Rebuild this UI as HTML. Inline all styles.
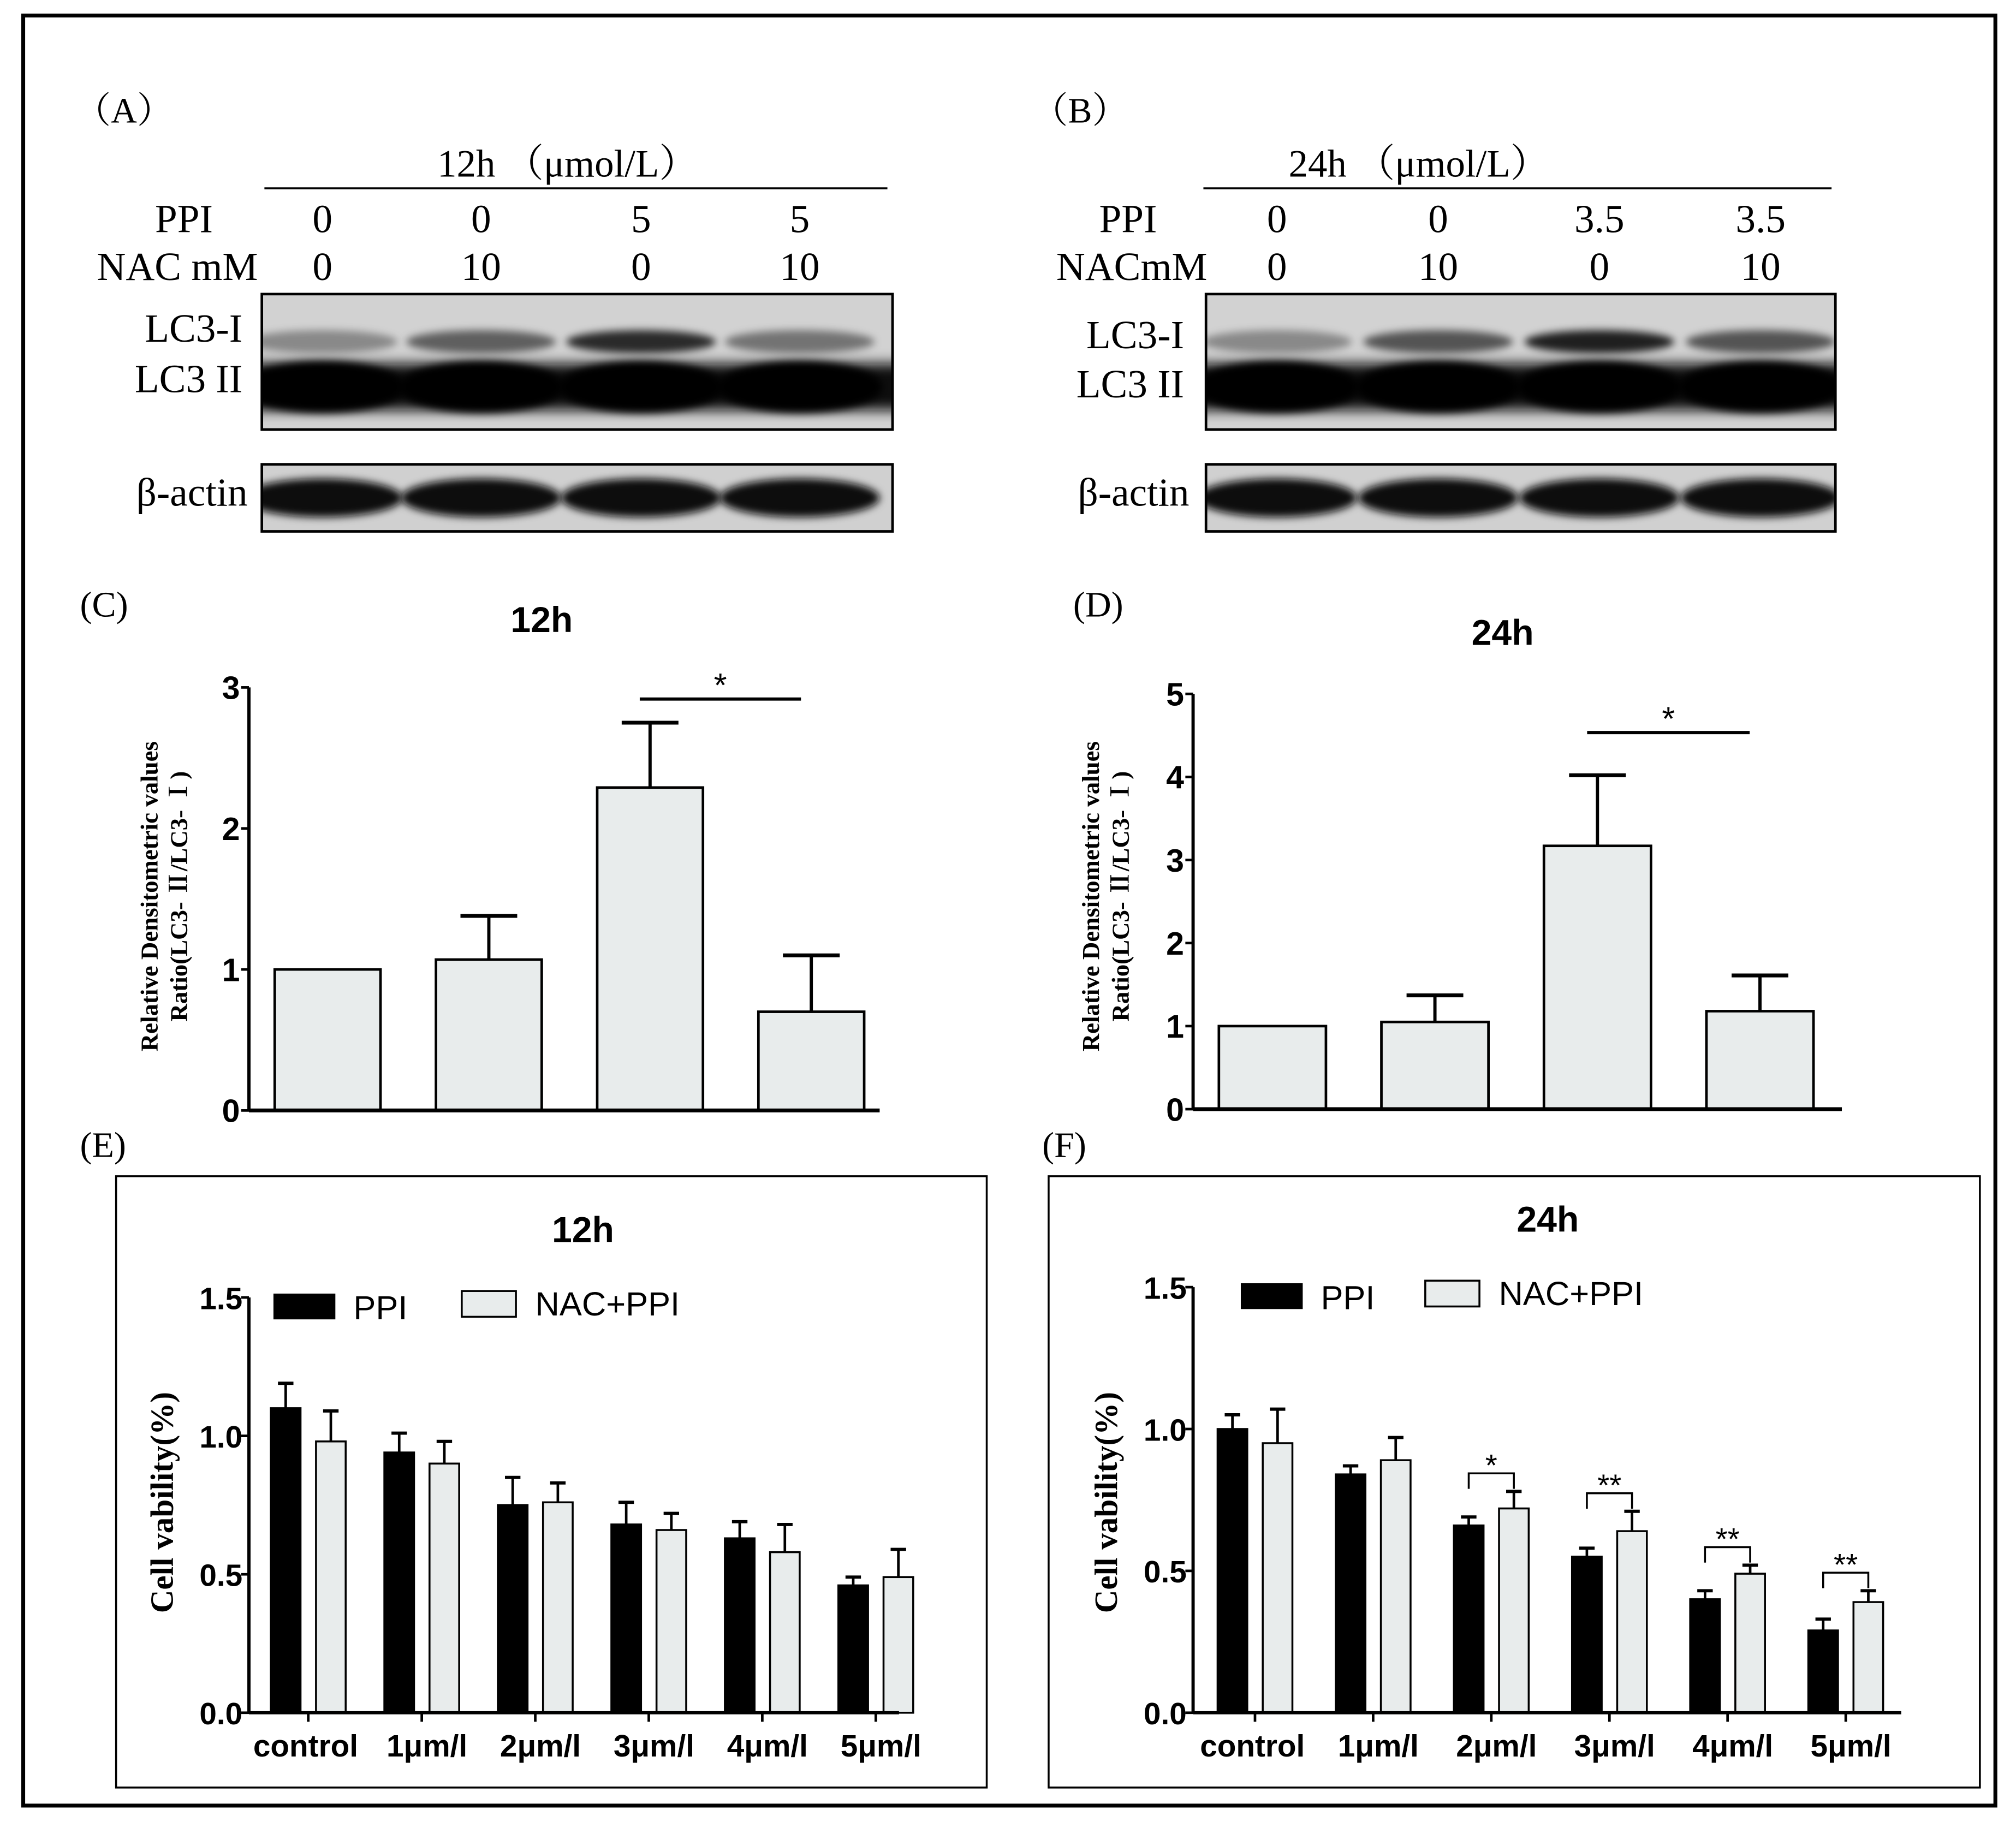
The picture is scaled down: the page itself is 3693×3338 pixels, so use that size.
<!DOCTYPE html>
<html><head><meta charset="utf-8"><style>
html,body{margin:0;padding:0;background:#fff;}
svg{display:block;}
.ser{font-family:"Liberation Serif","Noto Serif CJK SC",serif;}
.sans{font-family:"Liberation Sans","Noto Sans CJK SC",sans-serif;}
</style></head><body>
<svg id="fig" width="3693" height="3338" viewBox="0 0 1563 1412.7" xmlns="http://www.w3.org/2000/svg">
<defs>
<filter id="bl" x="-20%" y="-50%" width="140%" height="200%"><feGaussianBlur stdDeviation="5"/></filter>
<filter id="bl2" x="-20%" y="-50%" width="140%" height="200%"><feGaussianBlur stdDeviation="3"/></filter>
<clipPath id="clA1"><rect x="203" y="228" width="489" height="105"/></clipPath>
<clipPath id="clA2"><rect x="203" y="360" width="489" height="52"/></clipPath>
<clipPath id="clB1"><rect x="935" y="228" width="488" height="105"/></clipPath>
<clipPath id="clB2"><rect x="935" y="360" width="488" height="52"/></clipPath>
</defs>
<rect x="18" y="12" width="1529" height="1388" fill="#fff" stroke="#000" stroke-width="3"/>
<g id="blots"></g>
<g id="charts"></g>
</svg>
<script>
const NS="http://www.w3.org/2000/svg";
const svg=document.getElementById('fig');
function el(tag,attrs,parent,txt){const e=document.createElementNS(NS,tag);for(const k in attrs)e.setAttribute(k,attrs[k]);if(txt!==undefined)e.textContent=txt;(parent||svg).appendChild(e);return e;}

// ---- Western blot panels (A),(B) ----
const blotA_lanes=[250,373,497,620];
const blotB_lanes=[990,1115,1240,1365];
const lc3iA=[0.35,0.55,0.8,0.45];
const lc3iB=[0.35,0.6,0.85,0.6];
function blotPanel(p){
  const g=el('g',{},document.getElementById('blots'));
  
  
  let t=el('text',{x:p.lx,y:95,'font-size':28,class:'ser'},g,p.letter);
  
  t=el('text',{x:p.cx,y:137,'font-size':30,'text-anchor':'middle',class:'ser'},g,p.time);
  
  el('line',{x1:p.x0,y1:146,x2:p.x1,y2:146,stroke:'#000','stroke-width':1.5},g);
  el('text',{x:p.ppiX,y:180,'font-size':31,'text-anchor':'end',class:'ser'},g,'PPI');
  el('text',{x:p.nacX,y:217,'font-size':31,'text-anchor':'end',class:'ser'},g,p.nacLabel);
  p.lanes.forEach((x,i)=>{
    el('text',{x:x,y:180,'font-size':31,'text-anchor':'middle',class:'ser'},g,p.ppi[i]);
    el('text',{x:x,y:217,'font-size':31,'text-anchor':'middle',class:'ser'},g,p.nac[i]);
  });
  const b=el('g',{},g);
  
  el('rect',{x:p.bx,y:228,width:p.bw,height:105,fill:'#d2d2d2'},b);
  const cl=el('g',{'clip-path':'url(#'+p.c1+')'},b);
  el('rect',{x:p.bx-20,y:282,width:p.bw+40,height:36,fill:'#111',filter:'url(#bl)'},cl);
  p.lanes.forEach((x,i)=>{
    el('ellipse',{cx:x,cy:265,rx:58,ry:9,fill:'#000','fill-opacity':p.lc3i[i],filter:'url(#bl2)'},cl);
    el('ellipse',{cx:x,cy:300,rx:64,ry:20,fill:'#000',filter:'url(#bl2)'},cl);
  });
  el('rect',{x:p.bx,y:228,width:p.bw,height:105,fill:'none',stroke:'#000','stroke-width':2},b);
  el('text',{x:p.labX,y:p.lc3iY,'font-size':31,'text-anchor':'end',class:'ser'},g,'LC3-I');
  el('text',{x:p.labX,y:p.lc3iiY,'font-size':31,'text-anchor':'end',class:'ser'},g,'LC3 II');
  const a=el('g',{},g);
  
  el('rect',{x:p.bx,y:360,width:p.bw,height:52,fill:'#d0d0d0'},a);
  const ca=el('g',{'clip-path':'url(#'+p.c2+')'},a);
  p.lanes.forEach(x=>{el('ellipse',{cx:x,cy:386,rx:62,ry:15,fill:'#0a0a0a',filter:'url(#bl2)'},ca);});
  el('rect',{x:p.bx,y:360,width:p.bw,height:52,fill:'none',stroke:'#000','stroke-width':2},a);
  el('text',{x:p.labX+4,y:392,'font-size':31,'text-anchor':'end',class:'ser'},g,'β-actin');
}
blotPanel({id:'a',letter:'（A）',lx:58,time:'12h （μmol/L）',cx:440,x0:205,x1:688,ppiX:165,nacX:200,nacLabel:'NAC mM',c1:'clA1',c2:'clA2',
  lanes:blotA_lanes,ppi:['0','0','5','5'],nac:['0','10','0','10'],bx:203,bw:489,labX:188,lc3iY:265,lc3iiY:304,lc3i:lc3iA});
blotPanel({id:'b',letter:'（B）',lx:800,time:'24h （μmol/L）',cx:1100,x0:933,x1:1420,ppiX:897,nacX:936,nacLabel:'NACmM',c1:'clB1',c2:'clB2',
  lanes:blotB_lanes,ppi:['0','0','3.5','3.5'],nac:['0','10','0','10'],bx:935,bw:488,labX:918,lc3iY:270,lc3iiY:308,lc3i:lc3iB});

// ---- Chart data ----
const cCategories=['0/0','0/10','5/0','5/10'];
const cValues=[1.0,1.07,2.29,0.70];
const cErrors=[0,0.31,0.46,0.40];
const cTicks=[0,1,2,3];
const dCategories=['0/0','0/10','3.5/0','3.5/10'];
const dValues=[1.0,1.05,3.17,1.18];
const dErrors=[0,0.32,0.85,0.43];
const dTicks=[0,1,2,3,4,5];
const eCategories=['control','1μm/l','2μm/l','3μm/l','4μm/l','5μm/l'];
const ePPI=[1.10,0.94,0.75,0.68,0.63,0.46];
const ePPIerr=[0.09,0.07,0.10,0.08,0.06,0.03];
const eNAC=[0.98,0.90,0.76,0.66,0.58,0.49];
const eNACerr=[0.11,0.08,0.07,0.06,0.10,0.10];
const fPPI=[1.00,0.84,0.66,0.55,0.40,0.29];
const fPPIerr=[0.05,0.03,0.03,0.03,0.03,0.04];
const fNAC=[0.95,0.89,0.72,0.64,0.49,0.39];
const fNACerr=[0.12,0.08,0.06,0.07,0.03,0.04];
const fSig=['','','*','**','**','**'];
const vTicks=['0.0','0.5','1.0','1.5'];

const charts=document.getElementById('charts');

function ratioChart(o){
  const g=el('g',{},charts);
  
  const y=v=>o.y0-(v/o.max)*(o.y0-o.yTop);
  el('text',{x:o.letterX,y:478,'font-size':28,class:'ser'},g,o.letter);
  let t=el('text',{x:o.titleX,y:o.titleY,'font-size':28,'font-weight':'bold','text-anchor':'middle',class:'sans'},g,o.title);
  
  o.ticks.forEach(v=>{
    el('line',{x1:o.ax-6,y1:y(v),x2:o.ax,y2:y(v),stroke:'#000','stroke-width':2},g);
    const tl=el('text',{x:o.ax-7,y:y(v)+9,'font-size':25,'font-weight':'bold','text-anchor':'end',class:'sans'},g,String(v));
    
  });
  o.values.forEach((v,i)=>{
    const x=o.bar0+i*o.step;
    const r=el('rect',{x:x,y:y(v),width:o.bw,height:o.y0-y(v),fill:'#e8ecec',stroke:'#000','stroke-width':2},g);
    
    if(o.errs[i]>0){
      const cx=x+o.bw/2, ye=y(v+o.errs[i]);
      el('line',{x1:cx,y1:y(v),x2:cx,y2:ye,stroke:'#000','stroke-width':2.5},g);
      el('line',{x1:cx-22,y1:ye,x2:cx+22,y2:ye,stroke:'#000','stroke-width':3},g);
    }
  });
  el('line',{x1:o.ax,y1:o.yTop,x2:o.ax,y2:o.y0,stroke:'#000','stroke-width':2.5},g);
  el('line',{x1:o.ax,y1:o.y0,x2:o.xEnd,y2:o.y0,stroke:'#000','stroke-width':3},g);
  const s1=o.bar0+2*o.step+o.bw/2-8, s2=o.bar0+3*o.step+o.bw/2-8;
  el('line',{x1:s1,y1:o.sigY,x2:s2,y2:o.sigY,stroke:'#000','stroke-width':2.5},g);
  el('text',{x:(s1+s2)/2,y:o.sigY-2,'font-size':26,'text-anchor':'middle',class:'sans'},g,'*');
  const yl=el('text',{transform:`translate(${o.ylX},${o.ylY}) rotate(-90)`,'font-size':19,'font-weight':'bold','text-anchor':'middle',class:'ser'},g);
  
  el('tspan',{x:0,y:0},yl,'Relative  Densitometric values');
  el('tspan',{x:0,y:23},yl,'Ratio(LC3- Ⅱ/LC3- Ⅰ)');
}
ratioChart({id:'c',letter:'(C)',letterX:62,title:'12h',titleX:420,titleY:490,ax:193,y0:861,yTop:533,max:3,ticks:cTicks,
  values:cValues,errs:cErrors,cats:cCategories,bar0:213,step:125,bw:82,xEnd:682,sigY:542,ylX:122,ylY:695});
ratioChart({id:'d',letter:'(D)',letterX:832,title:'24h',titleX:1165,titleY:500,ax:925,y0:860,yTop:538,max:5,ticks:dTicks,
  values:dValues,errs:dErrors,cats:dCategories,bar0:945,step:126,bw:83,xEnd:1428,sigY:568,ylX:852,ylY:695});

function vabChart(o){
  const g=el('g',{},charts);
  
  const y=v=>o.y0-(v/1.5)*(o.y0-o.yTop);
  el('text',{x:o.letterX,y:897,'font-size':28,class:'ser'},g,o.letter);
  el('rect',{x:o.bx,y:912,width:o.bwid,height:474,fill:'none',stroke:'#000','stroke-width':1.5},g);
  let t=el('text',{x:o.titleX,y:o.titleY,'font-size':28,'font-weight':'bold','text-anchor':'middle',class:'sans'},g,o.title);
  
  vTicks.forEach(s=>{
    const v=parseFloat(s);
    el('line',{x1:o.ax-6,y1:y(v),x2:o.ax,y2:y(v),stroke:'#000','stroke-width':2},g);
    const tl=el('text',{x:o.ax-5,y:y(v)+9,'font-size':24,'font-weight':'bold','text-anchor':'end',class:'sans'},g,s);
    
  });
  const bw=23;
  eCategories.forEach((c,i)=>{
    const x=o.g0+i*o.step;
    [[o.ppi[i],o.ppiE[i],'#000',x,'ppi'],[o.nac[i],o.nacE[i],'#e8ecec',x+o.off,'nac']].forEach(([v,e,f,bx,n])=>{
      const r=el('rect',{x:bx,y:y(v),width:bw,height:o.y0-y(v),fill:f,stroke:'#000','stroke-width':1.5},g);
      
      const cx=bx+bw/2, ye=y(v+e);
      el('line',{x1:cx,y1:y(v),x2:cx,y2:ye,stroke:'#000','stroke-width':2},g);
      el('line',{x1:cx-6,y1:ye,x2:cx+6,y2:ye,stroke:'#000','stroke-width':2.5},g);
    });
    const mid=x+(o.off+bw)/2;
    el('line',{x1:mid,y1:o.y0,x2:mid,y2:o.y0+7,stroke:'#000','stroke-width':2},g);
    const xl=el('text',{x:mid+(i==0?-2:4),y:o.y0+34,'font-size':24,'font-weight':'bold','text-anchor':'middle',class:'sans'},g,c);
    
    if(o.sig && o.sig[i]){
      const top=y(Math.max(o.ppi[i]+o.ppiE[i],o.nac[i]+o.nacE[i]))-14;
      const a=x+bw/2,b=x+o.off+bw/2;
      el('path',{d:`M${a},${top+12}V${top}H${b}V${top+12}`,fill:'none',stroke:'#000','stroke-width':1.5},g);
      el('text',{x:(a+b)/2,y:top+2,'font-size':24,'text-anchor':'middle',class:'sans'},g,o.sig[i]);
    }
  });
  el('line',{x1:o.ax,y1:o.yTop,x2:o.ax,y2:o.y0,stroke:'#000','stroke-width':2.5},g);
  el('line',{x1:o.ax,y1:o.y0,x2:o.xEnd,y2:o.y0,stroke:'#000','stroke-width':2.5},g);
  const yl=el('text',{transform:`translate(${o.ylX},1165) rotate(-90)`,'font-size':25,'font-weight':'bold','text-anchor':'middle',class:'ser'},g,'Cell vability(%)');
  
  const lg=el('g',{},g);
  el('rect',{x:o.lgX,y:o.lgY,width:48,height:20,fill:'#000'},lg);
  el('text',{x:o.lgX+62,y:o.lgY+20,'font-size':26,class:'sans'},lg,'PPI');
  el('rect',{x:o.lgX+o.lg2,y:o.lgY-2,width:42,height:20,fill:'#e8ecec',stroke:'#000','stroke-width':1.5},lg);
  el('text',{x:o.lgX+o.lg2+57,y:o.lgY+17,'font-size':26,class:'sans'},lg,'NAC+PPI');
}
vabChart({id:'e',letter:'(E)',letterX:62,bx:90,bwid:675,title:'12h',titleX:452,titleY:963,ax:193,y0:1328,yTop:1006,
  g0:210,step:88,off:35,ppi:ePPI,ppiE:ePPIerr,nac:eNAC,nacE:eNACerr,sig:null,xEnd:697,ylX:134,lgX:212,lgY:1003,lg2:146});
vabChart({id:'f',letter:'(F)',letterX:808,bx:813,bwid:722,title:'24h',titleX:1200,titleY:955,ax:925,y0:1328,yTop:998,
  g0:944,step:91.6,off:35,ppi:fPPI,ppiE:fPPIerr,nac:fNAC,nacE:fNACerr,sig:fSig,xEnd:1474,ylX:866,lgX:962,lgY:995,lg2:143});
</script>
</body></html>
